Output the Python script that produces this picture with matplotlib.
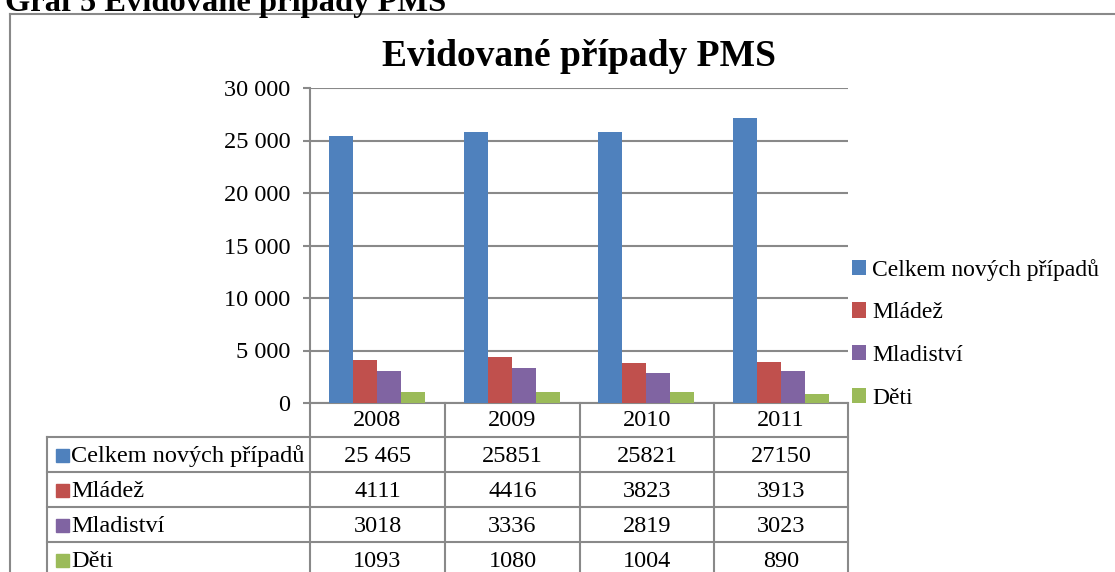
import numpy as np
import matplotlib.pyplot as plt
from matplotlib.patches import Rectangle
from matplotlib.lines import Line2D
from matplotlib.ticker import FuncFormatter

plt.rcParams['font.family'] = ['Liberation Serif', 'DejaVu Serif']

# data
years = ['2008', '2009', '2010', '2011']
series = ['Celkem nových případů', 'Mládež', 'Mladiství', 'Děti']
celkem = [25465, 25851, 25821, 27150]
mladez = [4111, 4416, 3823, 3913]
mladistvi = [3018, 3336, 2819, 3023]
deti = [1093, 1080, 1004, 890]
# texty v tabulce (tak jak jsou v originale)
celkem_txt = ['25 465', '25851', '25821', '27150']
colors = ['#4F81BD', '#C0504D', '#8064A2', '#9BBB59']

values = [celkem, mladez, mladistvi, deti]
table_txt = [celkem_txt] + [[str(v) for v in s] for s in values[1:]]

W, H = 1115, 572
fig = plt.figure(figsize=(W / 100, H / 100), dpi=100)
grey = '#898989'
fs = 17.5

def fx(px):
    return px / W

def fy(py):
    return 1 - py / H

# plot area
ax = fig.add_axes([fx(310), fy(403), fx(848) - fx(310), fy(88) - fy(403)])
x = np.arange(len(years))
bw = 0.178
for i, s in enumerate(values):
    ax.bar(x + (i - 1.5) * bw, s, bw, color=colors[i], label=series[i], zorder=3)

ax.set_xlim(-0.5, len(years) - 0.5)
ax.set_ylim(0, 30000)
ax.set_yticks(np.arange(0, 30001, 5000))
ax.yaxis.set_major_formatter(FuncFormatter(lambda v, p: f'{int(v):,}'.replace(',', ' ')))
ax.set_xticks([])
ax.grid(axis='y', color=grey, lw=1.5, zorder=0)
for sp in ['top', 'right']:
    ax.spines[sp].set_visible(False)
ax.spines['left'].set_color(grey)
ax.spines['left'].set_linewidth(1.5)
ax.spines['bottom'].set_color(grey)
ax.spines['bottom'].set_linewidth(1.5)
ax.tick_params(axis='y', length=5, width=1.5, color=grey, pad=9, labelsize=fs)

ax.set_title('Evidované případy PMS', fontsize=27, fontweight='bold', pad=16)

# legenda
leg = ax.legend(loc='center left', bbox_to_anchor=(1.0, 0.22), frameon=False, fontsize=17,
                handlelength=0.62, handleheight=0.62, handletextpad=0.25,
                labelspacing=0.92, borderaxespad=0.0, borderpad=0.15)

# tabulka pod grafem
col_edges = [310, 445, 580, 714, 848]
row_edges = [403, 437, 472, 507, 542, 577]
lbl_left = 47
lw = 1.5

def hline(y, x0, x1):
    fig.add_artist(Line2D([fx(x0), fx(x1)], [fy(y), fy(y)], color=grey, lw=lw))

def vline(xx, y0, y1):
    fig.add_artist(Line2D([fx(xx), fx(xx)], [fy(y0), fy(y1)], color=grey, lw=lw))

for ce in col_edges:
    vline(ce, 403, 580)
vline(lbl_left, 437, 580)
hline(437, lbl_left, 848)
for re_ in row_edges[2:]:
    hline(re_, lbl_left, 848)

for j, yr in enumerate(years):
    cx = (col_edges[j] + col_edges[j + 1]) / 2
    fig.text(fx(cx), fy((row_edges[0] + row_edges[1]) / 2 + 1), yr, ha='center', va='center', fontsize=fs)

for i, name in enumerate(series):
    yc = (row_edges[i + 1] + row_edges[i + 2]) / 2
    fig.add_artist(Rectangle((fx(56), fy(yc + 7)), fx(13), fy(0) - fy(13), color=colors[i]))
    fig.text(fx(71), fy(yc + 2), name, ha='left', va='center', fontsize=fs)
    for j in range(len(years)):
        cx = (col_edges[j] + col_edges[j + 1]) / 2
        fig.text(fx(cx), fy(yc + 2), table_txt[i][j], ha='center', va='center', fontsize=fs)

# ramecek a nadpis nahore (v originale oriznuty hornim okrajem)
hline(14, 10, W + 5)
vline(10, 14, H + 5)
fig.text(fx(5), fy(11), 'Graf 5 Evidované případy PMS', ha='left', va='baseline', fontsize=23.4, fontweight='bold')

fig.savefig('out.png', dpi=100)
